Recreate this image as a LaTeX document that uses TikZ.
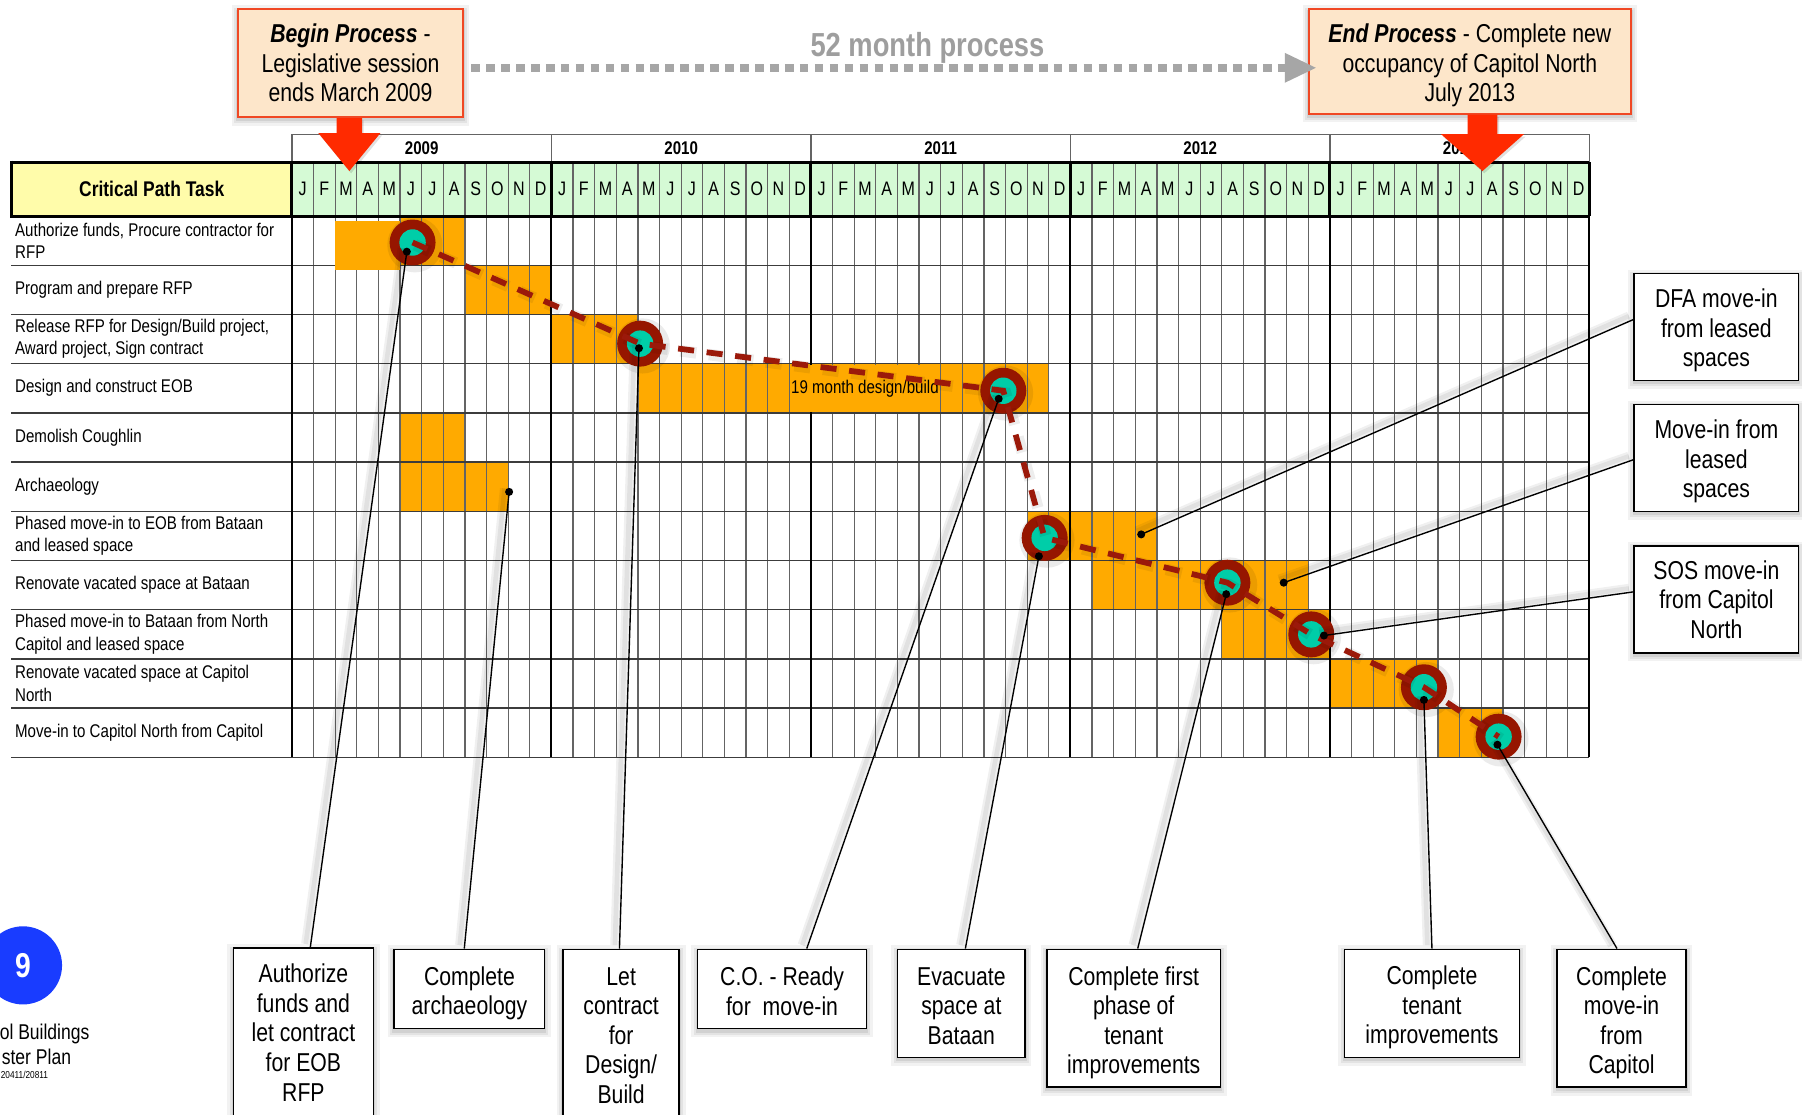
\documentclass[tikz,border=0pt]{standalone}
\usepackage{fontspec}
\setmainfont[FakeStretch=0.82]{Liberation Sans}
\usetikzlibrary{calc}
\definecolor{barorange}{RGB}{255,170,0}
\definecolor{hdrgreen}{RGB}{213,250,213}
\definecolor{hdryellow}{RGB}{255,252,170}
\definecolor{peach}{RGB}{253,230,202}
\definecolor{boxred}{RGB}{240,72,36}
\definecolor{arrowred}{RGB}{255,42,0}
\definecolor{ringred}{RGB}{150,22,0}
\definecolor{tealfill}{RGB}{0,205,168}
\definecolor{pathred}{RGB}{155,25,10}
\definecolor{procgray}{RGB}{166,166,166}
\definecolor{gridgray}{RGB}{100,100,100}
\definecolor{rowgray}{RGB}{60,60,60}
\definecolor{badgeblue}{RGB}{25,60,255}
\newcommand{\ganttbar}[3]{\fill[barorange] ({254+#2*18.8167},{188+(#1-1)*42.818}) rectangle ({254+#3*18.8167},{188+#1*42.818});}
\newcommand{\topstrut}[1]{\rule{0pt}{#1}}
\tikzset{
  softshadow/.style={
    preaction={fill=none, draw=black, draw opacity=0.05, line width=11pt, transform canvas={yshift=-2pt}},
    preaction={fill=none, draw=black, draw opacity=0.06, line width=6.5pt, transform canvas={yshift=-2pt}},
    preaction={fill=none, draw=black, draw opacity=0.08, line width=3pt, transform canvas={yshift=-2pt}}},
  callout/.style={draw=black, line width=1.3pt, fill=white, align=center, inner sep=0pt,
    font=\fontsize{22.5}{25.7}\selectfont, softshadow},
  topbox/.style={draw=boxred, line width=1.6pt, fill=peach, align=center, inner sep=0pt,
    font=\fontsize{22.5}{25.7}\selectfont, softshadow},
  tasklbl/.style={anchor=west, align=left, inner sep=0pt, font=\fontsize{16}{19.5}\selectfont},
  monthtxt/.style={inner sep=0pt, font=\fontsize{17}{17}\selectfont},
  yeartxt/.style={inner sep=0pt, font=\bfseries\fontsize{16}{16}\selectfont},
  connector/.style={draw=black, line width=1.2pt,
    preaction={draw=black, draw opacity=0.06, line width=8pt, transform canvas={shift={(-4pt,3pt)}}},
    preaction={draw=black, draw opacity=0.06, line width=4pt, transform canvas={shift={(-4pt,3pt)}}}},
  milestone/.style={circle, fill=ringred, minimum size=40pt, inner sep=0pt,
    path picture={\fill[tealfill] (path picture bounding box.center) circle (11.5pt);},
    preaction={fill=none, draw=black, draw opacity=0.08, line width=8pt, transform canvas={shift={(2pt,-2pt)}}}},
  dotn/.style={circle, fill=black, minimum size=7pt, inner sep=0pt},
  critpath/.style={draw=pathred, line width=5pt, dash pattern=on 14pt off 11pt,
    preaction={draw=black, draw opacity=0.07, line width=10pt, dash pattern=on 14pt off 11pt, transform canvas={shift={(2pt,-2pt)}}}},
  procline/.style={draw=procgray, line width=6.5pt, dash pattern=on 7.5pt off 5.5pt},
  arrowshape/.style={fill=arrowred,
    preaction={fill=black, fill opacity=0.12, transform canvas={shift={(1.5pt,-2pt)}}}},
}
\begin{document}
\begin{tikzpicture}[x=1pt,y=-1pt]
\fill[white] (0,0) rectangle (1568,970);
\useasboundingbox (0,0) rectangle (1568,970);

% header backgrounds
\fill[hdrgreen] (254,141) rectangle (1383,188);
\fill[hdryellow] (10,141) rectangle (254,188);

% bars (under grid)
\ganttbar{1}{5}{8}
\ganttbar{2}{8}{12}
\ganttbar{3}{12}{16}
\ganttbar{4}{16}{35}
\ganttbar{5}{5}{8}
\ganttbar{6}{5}{10}
\ganttbar{7}{34}{40}
\ganttbar{8}{37}{47}
\ganttbar{9}{43}{48}
\ganttbar{10}{48}{53}
\ganttbar{11}{53}{56}

% grid
\foreach \k in {1,...,59}
  \draw[gridgray, line width=1.1pt] ({254+\k*18.8167},141) -- ({254+\k*18.8167},659);
\foreach \r in {1,...,11}
  \draw[rowgray, line width=1.3pt] (10,{188+\r*42.818}) -- (1383,{188+\r*42.818});
\draw[gridgray, line width=1.1pt] (254,117) -- (1383,117);
\foreach \yy in {0,...,5} {
  \draw[gridgray, line width=1.1pt] ({254+\yy*225.8},117) -- ({254+\yy*225.8},141);
  \draw[black, line width=2.6pt] ({254+\yy*225.8},141) -- ({254+\yy*225.8},188);
  \draw[black, line width=1.6pt] ({254+\yy*225.8},188) -- ({254+\yy*225.8},659);
}
\draw[black, line width=2.6pt] (10,141) -- (1383,141) (10,188) -- (1383,188) (10,139.7) -- (10,189.3);

% header texts
\node[inner sep=0pt, font=\bfseries\fontsize{18.5}{20}\selectfont] (cpt) at (132,164.5) {Critical Path Task};
\foreach \yr [count=\i from 0] in {2009,2010,2011,2012,2013}
  \node[yeartxt] (yr\yr) at ({254+(\i*12+6)*18.8167},129) {\yr};
\foreach \yy in {0,...,4} {
  \foreach \m [count=\k from 0] in {J,F,M,A,M,J,J,A,S,O,N,D}
    \node[monthtxt] (mon-\yy-\k) at ({254+(\yy*12+\k+0.5)*18.8167},164.5) {\m};
}

% task labels
\node[tasklbl] (t1) at (13,209.4) {Authorize funds, Procure contractor for\\RFP};
\node[tasklbl] (t2) at (13,252.2) {Program and prepare RFP};
\node[tasklbl] (t3) at (13,295.0) {Release RFP for Design/Build project,\\Award project, Sign contract};
\node[tasklbl] (t4) at (13,337.8) {Design and construct EOB};
\node[tasklbl] (t5) at (13,380.7) {Demolish Coughlin};
\node[tasklbl] (t6) at (13,423.5) {Archaeology};
\node[tasklbl] (t7) at (13,466.3) {Phased move-in to EOB from Bataan\\and leased space};
\node[tasklbl] (t8) at (13,509.1) {Renovate vacated space at Bataan};
\node[tasklbl] (t9) at (13,551.9) {Phased move-in to Bataan from North\\Capitol and leased space};
\node[tasklbl] (t10) at (13,594.7) {Renovate vacated space at Capitol\\North};
\node[tasklbl] (t11) at (13,637.6) {Move-in to Capitol North from Capitol};

% bars on top of grid
\fill[barorange] (291.6,192) rectangle (348.1,235);
\node[fill=barorange, inner sep=0pt, minimum width=130pt, minimum height=41pt,
  font=\fontsize{16}{16}\selectfont] (dbtext) at (752.6,337.9) {19 month design/build};

% milestones
\node[milestone] (c1) at (359,211) {};
\node[milestone] (c2) at (557,299) {};
\node[milestone] (c3) at (873,340) {};
\node[milestone] (c4) at (909,468) {};
\node[milestone] (c5) at (1068,507) {};
\node[milestone] (c6) at (1141,552) {};
\node[milestone] (c7) at (1239,598) {};
\node[milestone] (c8) at (1304,641) {};

\draw[critpath] (c1.center) -- (c2.center) -- (c3.center) -- (c4.center) -- (c5.center)
  -- (c6.center) -- (c7.center) -- (c8.center);

% dots
\node[dotn] (d1) at (354,219) {};
\node[dotn] (darch) at (443,428) {};
\node[dotn] (d2) at (556,303) {};
\node[dotn] (d3) at (869,347) {};
\node[dotn] (d4) at (904,484) {};
\node[dotn] (d5) at (1067,517) {};
\node[dotn] (ddfa) at (993,465) {};
\node[dotn] (dmove) at (1117,507) {};
\node[dotn] (d6) at (1152,553) {};
\node[dotn] (d7) at (1239,609) {};
\node[dotn] (d8) at (1303,648) {};

% callout boxes
\node[callout, minimum width=122pt, minimum height=147pt] (b1) at (264,898.5) {Authorize\\funds and\\let contract\\for EOB\\RFP};
\node[callout, minimum width=131pt, minimum height=69pt] (b2) at (408.5,860.5) {\topstrut{24pt}Complete\\archaeology};
\node[callout, minimum width=101pt, minimum height=150pt] (b3) at (540.5,901) {Let\\contract\\for\\Design/\\Build};
\node[callout, minimum width=147pt, minimum height=69pt] (b4) at (680.5,860.5) {\topstrut{20.5pt}C.O. - Ready\\for~ move-in};
\node[callout, minimum width=111pt, minimum height=94pt] (b5) at (836.5,873) {\topstrut{20.5pt}Evacuate\\space at\\Bataan};
\node[callout, minimum width=151pt, minimum height=120pt] (b6) at (986.5,886) {\topstrut{24pt}Complete first\\phase of\\tenant\\improvements};
\node[callout, minimum width=152pt, minimum height=94pt] (b7) at (1246,873) {\topstrut{24pt}Complete\\tenant\\improvements};
\node[callout, minimum width=112pt, minimum height=120pt] (b8) at (1411,886) {\topstrut{24pt}Complete\\move-in\\from\\Capitol};
\node[callout, minimum width=143pt, minimum height=93pt] (r1) at (1493.5,284.5) {\topstrut{22.5pt}DFA move-in\\from leased\\spaces};
\node[callout, minimum width=143pt, minimum height=93pt] (r2) at (1493.5,398.5) {\topstrut{22.5pt}Move-in from\\leased\\spaces};
\node[callout, minimum width=143pt, minimum height=93pt] (r3) at (1493.5,521.5) {SOS move-in\\from Capitol\\North};

% connectors
\draw[connector] (d1.center) -- ([xshift=6pt]b1.north);
\draw[connector] (darch.center) -- ([xshift=-4.5pt]b2.north);
\draw[connector] (d2.center) -- ([xshift=-1.5pt]b3.north);
\draw[connector] (d3.center) -- ([xshift=21.5pt]b4.north);
\draw[connector] (d4.center) -- ([xshift=3.5pt]b5.north);
\draw[connector] (d5.center) -- ([xshift=3.5pt]b6.north);
\draw[connector] (d7.center) -- (b7.north);
\draw[connector] (d8.center) -- ([xshift=-4pt]b8.north);
\draw[connector] (ddfa.center) -- ([yshift=6.5pt]r1.west);
\draw[connector] (dmove.center) -- ([yshift=-1.5pt]r2.west);
\draw[connector] (d6.center) -- ([yshift=6.5pt]r3.west);

% top boxes and process arrow
\node[topbox, minimum width=196pt, minimum height=94pt] (beginbox) at (305,55)
  {\textbf{\textit{Begin Process}} -\\Legislative session\\ends March 2009};
\node[topbox, minimum width=280pt, minimum height=91pt] (endbox) at (1279,53.5)
  {\topstrut{23.5pt}\textbf{\textit{End Process}} - Complete new\\occupancy of Capitol North\\July 2013};
\path[arrowshape] ([xshift=-12pt]beginbox.south) -- ++(22,0) -- ++(0,13) -- ++(16,0)
  -- ++(-27,33) -- ++(-27,-33) -- ++(16,0) -- cycle;
\path[arrowshape] ([xshift=-2pt]endbox.south) -- ++(26,0) -- ++(0,17) -- ++(23,0)
  -- ++(-36,32) -- ++(-36,-32) -- ++(23,0) -- cycle;

\coordinate (pstart) at (410,59);
\coordinate (pend) at (1118,59);
\draw[procline] (pstart) -- (pend);
\fill[procgray] (1118,46) -- (1145,59) -- (1118,72) -- cycle;
\node[inner sep=0pt, text=procgray!95!black, font=\bfseries\fontsize{29}{29}\selectfont] (proctxt) at (807,41.5) {52 month process};

% badge and footer
\node[circle, fill=badgeblue, minimum size=68pt, inner sep=0pt, text=white,
  font=\bfseries\fontsize{30}{30}\selectfont] (badge) at (20,840) {9};
\node[anchor=east, inner sep=0pt, font=\fontsize{18.6}{20}\selectfont] (foot1) at (78,899.5) {ol Buildings};
\node[anchor=east, inner sep=0pt, font=\fontsize{18.6}{20}\selectfont] (foot2) at (62,919.5) {ster Plan};
\node[anchor=east, inner sep=0pt, font=\fontsize{8.8}{9}\selectfont] (foot3) at (42,935) {20411/20811};
\end{tikzpicture}
\end{document}
